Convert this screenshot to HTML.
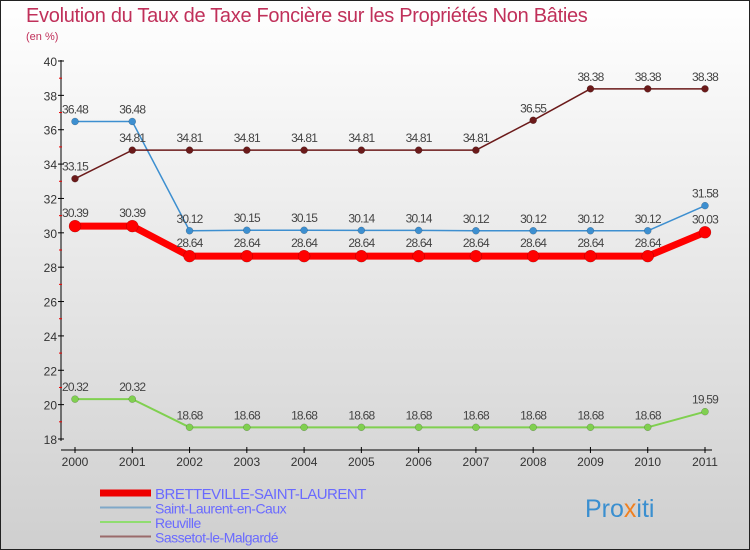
<!DOCTYPE html>
<html><head><meta charset="utf-8"><style>
body{margin:0;}
svg{display:block;font-family:"Liberation Sans",sans-serif;}
</style></head><body>
<svg id="c" width="750" height="550" xmlns="http://www.w3.org/2000/svg">
<defs><linearGradient id="bg" x1="0" y1="0" x2="0" y2="1"><stop offset="0" stop-color="#ffffff"/><stop offset="1" stop-color="#cfcfcf"/></linearGradient></defs>
<rect x="0.5" y="0.5" width="749" height="549" fill="url(#bg)" stroke="#222"/>
<text x="26" y="22" font-size="20" fill="#c0305a" letter-spacing="-0.3">Evolution du Taux de Taxe Foncière sur les Propriétés Non Bâties</text>
<text x="26" y="40" font-size="11" fill="#c0305a">(en %)</text>
<g id="axes"></g><g id="series"></g><g id="legend"></g>
<text x="585" y="517" font-size="25" fill="#3a8fd0">Pro<tspan fill="#f08020">x</tspan>iti</text>
</svg>
<script>
const years=[2000,2001,2002,2003,2004,2005,2006,2007,2008,2009,2010,2011];
const yTicks=[18,20,22,24,26,28,30,32,34,36,38,40];
const bretteville=[30.39,30.39,28.64,28.64,28.64,28.64,28.64,28.64,28.64,28.64,28.64,30.03];
const saintLaurent=[36.48,36.48,30.12,30.15,30.15,30.14,30.14,30.12,30.12,30.12,30.12,31.58];
const reuville=[20.32,20.32,18.68,18.68,18.68,18.68,18.68,18.68,18.68,18.68,18.68,19.59];
const sassetot=[33.15,34.81,34.81,34.81,34.81,34.81,34.81,34.81,36.55,38.38,38.38,38.38];
const NS="http://www.w3.org/2000/svg";
const x=i=>75+i*(630/11);
const y=v=>439-(v-18)*(378/22);
function mk(p,t,a){const e=document.createElementNS(NS,t);for(const k in a)e.setAttribute(k,a[k]);p.appendChild(e);return e;}
const ax=document.getElementById('axes');
let l=mk(ax,'line',{x1:61,y1:60,x2:61,y2:441,stroke:'#000'});


l=mk(ax,'line',{x1:61,y1:450,x2:712,y2:450,stroke:'#000'});


yTicks.forEach((v,i)=>{
 mk(ax,'line',{x1:58,y1:y(v),x2:64,y2:y(v),stroke:'#000'});
 if(i<yTicks.length-1) mk(ax,'line',{x1:59,y1:y(v+1),x2:62,y2:y(v+1),stroke:'#e00'});
 const t=mk(ax,'text',{x:57,y:y(v)+5,'font-size':12,fill:'#333','text-anchor':'end'});
 t.textContent=v;
 
 
});
years.forEach((yr,i)=>{
 mk(ax,'line',{x1:x(i),y1:447,x2:x(i),y2:453,stroke:'#000'});
 const t=mk(ax,'text',{x:x(i),y:466,'font-size':12,fill:'#333','text-anchor':'middle'});
 t.textContent=yr;
 
 
});
const S=document.getElementById('series');
function draw(vals,color,w,r,name,labelDy){
 const g=mk(S,'g',{});
 
 
 const pl=mk(g,'polyline',{points:vals.map((v,i)=>x(i)+','+y(v)).join(' '),fill:'none',stroke:color,'stroke-width':w,'stroke-linejoin':'round'});
 
 
 vals.forEach((v,i)=>{
  const c=mk(g,'circle',{cx:x(i),cy:y(v),r:r,fill:color,stroke:'rgba(0,0,0,0.3)','stroke-width':0.5});
  
  
  const t=mk(g,'text',{x:x(i),y:y(v)+labelDy,'font-size':12,fill:'#444','text-anchor':'middle','letter-spacing':'-0.8'});
  t.textContent=v.toFixed(2);
  
  
 });
}
draw(reuville,'#80d050',2,3.5,'reuville',-8);
draw(saintLaurent,'#3d8fd0',1.5,3.5,'saint-laurent-en-caux',-8);
draw(sassetot,'#6b1a1a',1.5,3.5,'sassetot-le-malgarde',-8);
draw(bretteville,'#ff0000',7,6,'bretteville-saint-laurent',-9);
const L=document.getElementById('legend');
const leg=[['BRETTEVILLE-SAINT-LAURENT','#ee0000',7],['Saint-Laurent-en-Caux','#7fa8c8',2],['Reuville','#90dd70',2],['Sassetot-le-Malgardé','#9a6a6a',2]];
leg.forEach((d,i)=>{
 const yy=493+i*14.5;
 const g=mk(L,'g',{});
 
 
 mk(g,'line',{x1:100,y1:yy,x2:151,y2:yy,stroke:d[1],'stroke-width':d[2]});
 const t=mk(g,'text',{x:155,y:yy+6,'font-size':i==0?15:14,fill:'#6a6aff','letter-spacing':'-0.5'});
 t.textContent=d[0];
});
</script>
</body></html>
